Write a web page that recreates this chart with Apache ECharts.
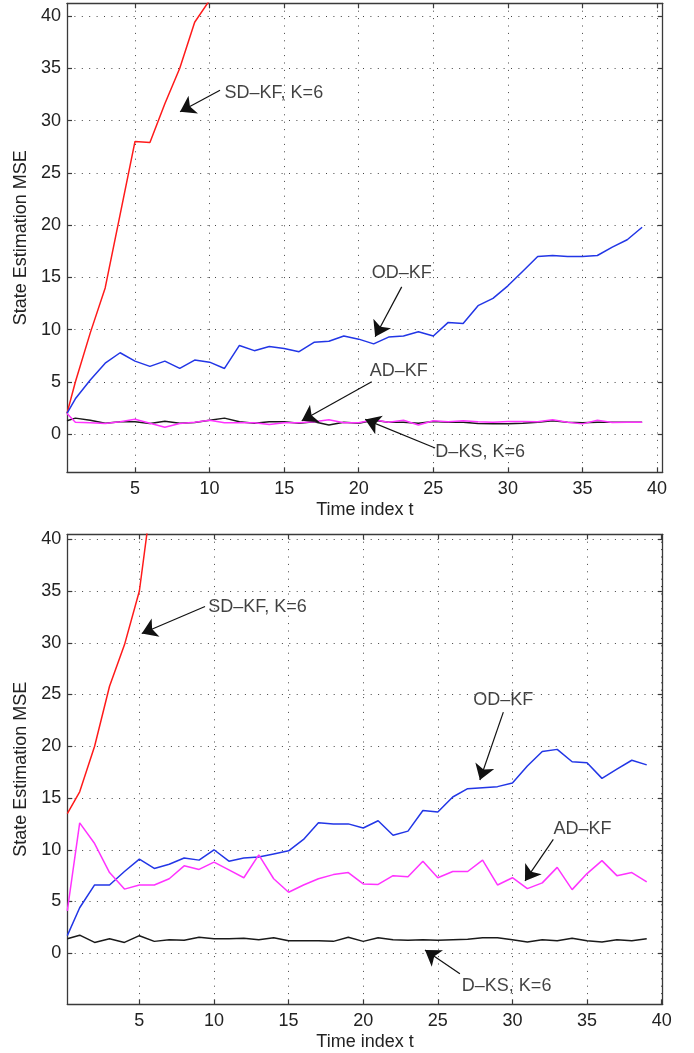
<!DOCTYPE html>
<html><head><meta charset="utf-8">
<script src="https://cdn.jsdelivr.net/npm/echarts@6/dist/echarts.min.js"></script>
<style>html,body{margin:0;padding:0;background:#fff}#c{width:694px;height:1053px}</style>
</head><body><div id="c"></div>
<script>
// ---------- data: top panel ----------
const tTop = [0.44,1,2,3,4,5,6,7,8,9,10,11,12,13,14,15,16,17,18,19,20,21,22,23,24,25,26,27,28,29,30,31,32,33,34,35,36,37,38,39];
const topSDKF = [2.0,5.0,9.7,14.0,21.0,28.0,27.9,31.6,35.0,39.4,41.5,47.0];
const topODKF = [2.0,3.4,5.2,6.8,7.8,7.0,6.5,7.0,6.3,7.1,6.9,6.3,8.5,8.0,8.4,8.2,7.9,8.8,8.9,9.4,9.1,8.65,9.3,9.4,9.8,9.4,10.7,10.6,12.3,13.0,14.2,15.6,17.0,17.1,17.0,17.0,17.1,17.9,18.6,19.8];
const topADKF = [2.0,1.16,1.1,1.03,1.2,1.45,1.06,0.68,1.03,1.16,1.35,1.1,1.1,1.1,0.94,1.1,1.1,1.2,1.4,1.1,1.1,1.4,1.16,1.35,0.9,1.3,1.2,1.3,1.2,1.16,1.22,1.22,1.2,1.4,1.16,1.0,1.35,1.13,1.16,1.16];
const topDKS = [1.3,1.55,1.35,1.06,1.2,1.2,1.03,1.26,1.06,1.13,1.35,1.55,1.2,1.06,1.2,1.2,1.06,1.2,0.9,1.16,1.06,1.35,1.16,1.16,1.06,1.22,1.16,1.16,1.03,1.0,1.0,1.06,1.16,1.3,1.16,1.1,1.16,1.16,1.16,1.16];

// ---------- data: bottom panel ----------
const tBot = [0.17,1,2,3,4,5,6,7,8,9,10,11,12,13,14,15,16,17,18,19,20,21,22,23,24,25,26,27,28,29,30,31,32,33,34,35,36,37,38,39];
const botSDKF = [13.5,15.6,20.0,25.8,29.8,35.0,46.0,55.0];
const botODKF = [1.7,4.4,6.6,6.6,7.9,9.1,8.2,8.6,9.2,9.0,10.0,8.9,9.2,9.3,9.6,9.9,11.0,12.6,12.5,12.5,12.1,12.8,11.4,11.8,13.8,13.65,15.1,15.9,16.0,16.1,16.45,18.1,19.5,19.7,18.5,18.4,16.9,17.8,18.65,18.2];
const botADKF = [4.1,12.6,10.6,7.8,6.2,6.6,6.6,7.2,8.45,8.1,8.8,8.06,7.3,9.5,7.2,5.9,6.6,7.2,7.6,7.8,6.7,6.65,7.5,7.4,8.9,7.3,7.9,7.9,9.0,6.6,7.3,6.25,6.8,8.3,6.15,7.7,8.95,7.5,7.8,6.9];
const botDKS = [1.4,1.75,1.05,1.4,1.05,1.7,1.15,1.3,1.25,1.55,1.4,1.4,1.45,1.3,1.5,1.2,1.2,1.2,1.15,1.55,1.15,1.5,1.3,1.25,1.3,1.25,1.3,1.35,1.5,1.5,1.3,1.1,1.3,1.2,1.45,1.2,1.1,1.3,1.2,1.4];

// ---------- ticks ----------
const xTickVals = [5,10,15,20,25,30,35,40];
const yTickVals = [0,5,10,15,20,25,30,35,40];

// ---------- annotations (data coordinates) ----------
const annTop = [
  {text:'SD\u2013KF, K=6', tx:14.31, ty:32.6, x1:10.7, y1:32.9, x2:8.02, y2:30.84},
  {text:'OD\u2013KF', tx:22.88, ty:15.4, x1:22.88, y1:14.1, x2:21.1, y2:9.33},
  {text:'AD\u2013KF', tx:22.68, ty:6.08, x1:20.87, y1:5.03, x2:16.18, y2:1.3},
  {text:'D\u2013KS, K=6', tx:28.14, ty:-1.66, x1:25.12, y1:-1.31, x2:20.43, y2:1.43}
];
const annBot = [
  {text:'SD\u2013KF, K=6', tx:12.92, ty:33.5, x1:9.4, y1:33.5, x2:5.16, y2:30.9},
  {text:'OD\u2013KF', tx:29.39, ty:24.45, x1:29.39, y1:23.3, x2:27.82, y2:16.74},
  {text:'AD\u2013KF', tx:34.69, ty:11.98, x1:32.74, y1:11.0, x2:30.84, y2:6.99},
  {text:'D\u2013KS, K=6', tx:29.61, ty:-3.13, x1:26.48, y1:-1.98, x2:24.14, y2:0.32}
];

const FONT = 'Liberation Sans, Arial, Helvetica, sans-serif';
const FS = 18;
const AX = '#3a3a3a';
const COLORS = {sd:'#ff1a1a', od:'#2236e6', ad:'#ff33ff', dks:'#1a1a1a'};

const panels = [
  {grid:{left:67, top:3.3, width:595.7, height:469}, xmin:0.44, xmax:40.38, ymin:-3.63, ymax:41.21,
   t:tTop, sd:topSDKF, od:topODKF, ad:topADKF, dks:topDKS, ann:annTop},
  {grid:{left:67.3, top:534.3, width:595.4, height:470}, xmin:0.17, xmax:40.07, ymin:-4.93, ymax:40.48,
   t:tBot, sd:botSDKF, od:botODKF, ad:botADKF, dks:botDKS, ann:annBot}
];

const grids = [], xAxes = [], yAxes = [], series = [];
panels.forEach((p, g) => {
  grids.push(Object.assign({show:false, containLabel:false}, p.grid));
  const xb = xAxes.length;
  xAxes.push({
    gridIndex:g, type:'value', position:'bottom', min:p.xmin, max:p.xmax,
    axisLine:{show:true, onZero:false, lineStyle:{color:AX, width:1.3}},
    axisTick:{show:true, inside:true, length:5, customValues:xTickVals, lineStyle:{color:AX, width:1.2}},
    axisLabel:{show:true, customValues:xTickVals, color:'#222', fontSize:FS, fontFamily:FONT, margin:8},
    splitLine:{show:true, lineStyle:{color:'#444', width:1, type:[1,6.4]}},
    name:'Time index t', nameLocation:'middle', nameGap:29,
    nameTextStyle:{color:'#222', fontSize:FS, fontFamily:FONT}
  });
  xAxes.push({
    gridIndex:g, type:'value', position:'top', min:p.xmin, max:p.xmax,
    axisLine:{show:true, onZero:false, lineStyle:{color:AX, width:1.3}},
    axisTick:{show:true, inside:true, length:5, customValues:xTickVals, lineStyle:{color:AX, width:1.2}},
    axisLabel:{show:false}, splitLine:{show:false}
  });
  const yb = yAxes.length;
  yAxes.push({
    gridIndex:g, type:'value', position:'left', min:p.ymin, max:p.ymax,
    axisLine:{show:true, onZero:false, lineStyle:{color:AX, width:1.3}},
    axisTick:{show:true, inside:true, length:5, customValues:yTickVals, lineStyle:{color:AX, width:1.2}},
    axisLabel:{show:true, customValues:yTickVals, color:'#222', fontSize:FS, fontFamily:FONT, margin:6},
    splitLine:{show:true, lineStyle:{color:'#444', width:1, type:[1,6.4]}},
    name:'State Estimation MSE', nameLocation:'middle', nameGap:35,
    nameTextStyle:{color:'#222', fontSize:FS, fontFamily:FONT}
  });
  yAxes.push({
    gridIndex:g, type:'value', position:'right', min:p.ymin, max:p.ymax,
    axisLine:{show:true, onZero:false, lineStyle:{color:AX, width:1.3}},
    axisTick:{show:true, inside:true, length:5, customValues:yTickVals, lineStyle:{color:AX, width:1.2}},
    axisLabel:{show:false}, splitLine:{show:false}
  });
  const mk = (vals, color, z) => ({
    type:'line', xAxisIndex:xb, yAxisIndex:yb, clip:true, animation:false,
    symbol:'none', showSymbol:false, z:z,
    lineStyle:{color:color, width:1.5}, itemStyle:{color:color},
    data: vals.map((v, i) => [p.t[i], v])
  });
  series.push(mk(p.sd, COLORS.sd, 2));
  series.push(mk(p.od, COLORS.od, 3));
  series.push(mk(p.dks, COLORS.dks, 4));
  series.push(mk(p.ad, COLORS.ad, 5));
  series.push({
    type:'lines', coordinateSystem:'cartesian2d', xAxisIndex:xb, yAxisIndex:yb,
    animation:false, z:6, symbol:['none','arrow'], symbolSize:[8,15],
    lineStyle:{color:'#111', width:1.2, opacity:1},
    data: p.ann.map(a => ({coords:[[a.x1, a.y1],[a.x2, a.y2]]}))
  });
  series.push({
    type:'scatter', xAxisIndex:xb, yAxisIndex:yb, animation:false, z:7,
    symbolSize:1, itemStyle:{color:'rgba(0,0,0,0)'}, silent:true,
    label:{show:true, position:'inside', formatter:'{b}', color:'#111', fontSize:FS, fontFamily:FONT},
    data: p.ann.map(a => ({name:a.text, value:[a.tx, a.ty]}))
  });
});

const chart = echarts.init(document.getElementById('c'), null, {renderer:'canvas'});
chart.setOption({
  backgroundColor:'#fff', animation:false,
  grid:grids, xAxis:xAxes, yAxis:yAxes, series:series
});
</script></body></html>
